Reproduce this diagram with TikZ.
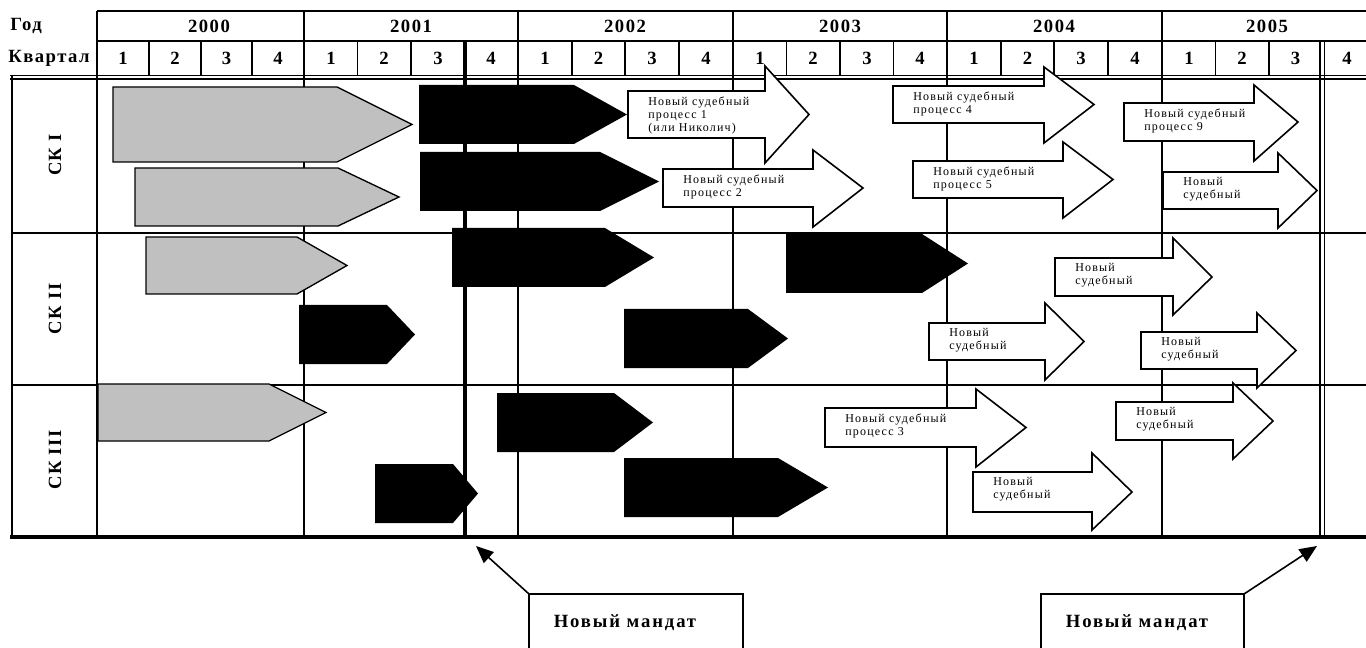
\documentclass[tikz,border=0pt]{standalone}
\usepackage{fontspec}
\setmainfont{Liberation Serif}
\newfontfamily\hdrfam[LetterSpace=8]{Liberation Serif}
\newfontfamily\mandfam[LetterSpace=10]{Liberation Serif}
\newfontfamily\smlfam[LetterSpace=10]{Liberation Serif}
\usetikzlibrary{arrows.meta}
\definecolor{shapegray}{RGB}{192,192,192}
\tikzset{
  thin grid/.style={line width=0.8pt},
  hdr/.style={font=\hdrfam\bfseries\fontsize{14}{16}\selectfont, inner sep=0pt},
  rowlbl/.style={font=\hdrfam\bfseries\fontsize{14}{16}\selectfont, inner sep=0pt, rotate=90},
  grayshape/.style={fill=shapegray, draw=black, line width=1pt},
  blackshape/.style={fill=black},
  whitearrow/.style={fill=white, draw=black, line width=1.2pt, line join=miter},
  lbl/.style={font=\smlfam\fontsize{9}{9.75}\selectfont, anchor=north west, inner sep=0pt, align=left},
  mandatbox/.style={line width=1.2pt},
  mandattxt/.style={font=\mandfam\bfseries\fontsize{14}{16}\selectfont, inner sep=0pt},
  pointer/.style={line width=1.2pt, -{Triangle[length=13pt,width=11pt]}}
}
\newcommand{\pentshape}[6]{\path[#1] (#2,#5) -- (#3,#5) -- (#4,{(#5+#6)/2}) -- (#3,#6) -- (#2,#6) -- cycle;}
\newcommand{\bigarrow}[9]{%
  \draw[whitearrow] (#2,#5) -- (#3,#5) -- (#3,#7) -- (#4,{(#5+#6)/2}) -- (#3,#8) -- (#3,#6) -- (#2,#6) -- cycle;
  \node[lbl] (#1) at ({#2+20},{#5+5.5}) {#9};}
\begin{document}
\begin{tikzpicture}[x=0.75pt,y=-0.75pt]
\useasboundingbox (0,0) rectangle (1366,648);
\clip (0,0) rectangle (1366,648);
% ---------- grid ----------
\draw[line width=2.2pt] (97,11) -- (1366,11);
\draw[thin grid] (97,41) -- (1366,41);
\draw[line width=0.9pt] (10,75.5) -- (1366,75.5);
\draw[line width=2pt] (10,79) -- (1366,79);
\draw[thin grid] (12,233) -- (1366,233);
\draw[thin grid] (12,385) -- (1366,385);
\draw[line width=3pt] (10,537) -- (1366,537);
\draw[thin grid] (12,75) -- (12,537);
\foreach \x in {97,304,518,733,947,1162} \draw[thin grid] (\x,11) -- (\x,537);
\foreach \x in {149,201,252,357.5,411,572,625,679,786.5,840,893.5,1001,1054,1108,1215.5,1269} \draw[thin grid] (\x,41) -- (\x,75.5);
\draw[line width=2.3pt] (465,41) -- (465,537);
\draw[thin grid] (1320,41) -- (1320,537);
\draw[thin grid] (1324.5,41) -- (1324.5,537);
% ---------- header text ----------
\node[hdr, anchor=west] (god) at (10,26) {Год};
\node[hdr, anchor=west] (kv) at (8,58) {Квартал};
\foreach \x/\y [count=\i] in {209/2000,411/2001,625/2002,840/2003,1054/2004,1267/2005}
  \node[hdr] (y\i) at (\x,26) {\y};
\foreach \x/\q [count=\i] in {123/1,175/2,226.5/3,278/4,331/1,384/2,438/3,491/4,545/1,598.5/2,652/3,706/4,760/1,813/2,867/3,920/4,974/1,1027.5/2,1081/3,1135/4,1189/1,1242/2,1295.5/3,1347/4}
  \node[hdr] (q\i) at (\x,58) {\q};
\node[rowlbl] (sk1) at (55,155) {СК I};
\node[rowlbl] (sk2) at (55,309) {СК II};
\node[rowlbl] (sk3) at (55,460) {СК III};
% ---------- gray shapes ----------
\pentshape{grayshape}{113}{337}{412}{87}{162}
\pentshape{grayshape}{135}{338}{399}{168}{226}
\pentshape{grayshape}{146}{297}{347}{237}{294}
\pentshape{grayshape}{98}{269}{326}{384}{441}
% ---------- black shapes ----------
\pentshape{blackshape}{419}{574}{627}{85}{144}
\pentshape{blackshape}{420}{600}{659}{152}{211}
\pentshape{blackshape}{452}{605}{654}{228}{287}
\pentshape{blackshape}{786}{922}{968}{234}{293}
\pentshape{blackshape}{299}{387}{415}{305}{364}
\pentshape{blackshape}{624}{748}{788}{309}{368}
\pentshape{blackshape}{375}{453}{478}{464}{523}
\pentshape{blackshape}{497}{614}{653}{393}{452}
\pentshape{blackshape}{624}{778}{828}{458}{517}
% ---------- white arrows ----------
\bigarrow{p1}{628}{765}{809}{91}{138}{66}{163}{Новый судебный\\процесс 1\\(или Николич)}
\bigarrow{p2}{663}{813}{863}{169}{207}{150}{227}{Новый судебный\\процесс 2}
\bigarrow{p4}{893}{1044}{1094}{86}{123}{67}{143}{Новый судебный\\процесс 4}
\bigarrow{p5}{913}{1063}{1113}{161}{198}{142}{218}{Новый судебный\\процесс 5}
\bigarrow{p9}{1124}{1254}{1298}{103}{141}{85}{161}{Новый судебный\\процесс 9}
\bigarrow{p10}{1163}{1278}{1317}{172}{209}{153}{228}{Новый\\судебный}
\bigarrow{p8}{1055}{1173}{1212}{258}{296}{238}{315}{Новый\\судебный}
\bigarrow{p6}{929}{1045}{1084}{323}{360}{303}{380}{Новый\\судебный}
\bigarrow{p11}{1141}{1257}{1296}{332}{369}{313}{388}{Новый\\судебный}
\bigarrow{p3}{825}{976}{1026}{408}{447}{389}{467}{Новый судебный\\процесс 3}
\bigarrow{p12}{1116}{1233}{1273}{402}{440}{383}{459}{Новый\\судебный}
\bigarrow{p7}{973}{1092}{1132}{472}{512}{453}{530}{Новый\\судебный}
% ---------- mandate callouts ----------
\coordinate (m1) at (529,594);
\coordinate (m2) at (1244,594);
\draw[mandatbox] (529,660) -- (m1) -- (743,594) -- (743,660);
\draw[mandatbox] (1041,660) -- (1041,594) -- (m2) -- (1244,660);
\node[mandattxt] (t1) at (625,623) {Новый мандат};
\node[mandattxt] (t2) at (1137,623) {Новый мандат};
\coordinate (a1) at (476,546);
\coordinate (a2) at (1317,546);
\draw[pointer] (m1) -- (a1);
\draw[pointer] (m2) -- (a2);
\end{tikzpicture}
\end{document}
